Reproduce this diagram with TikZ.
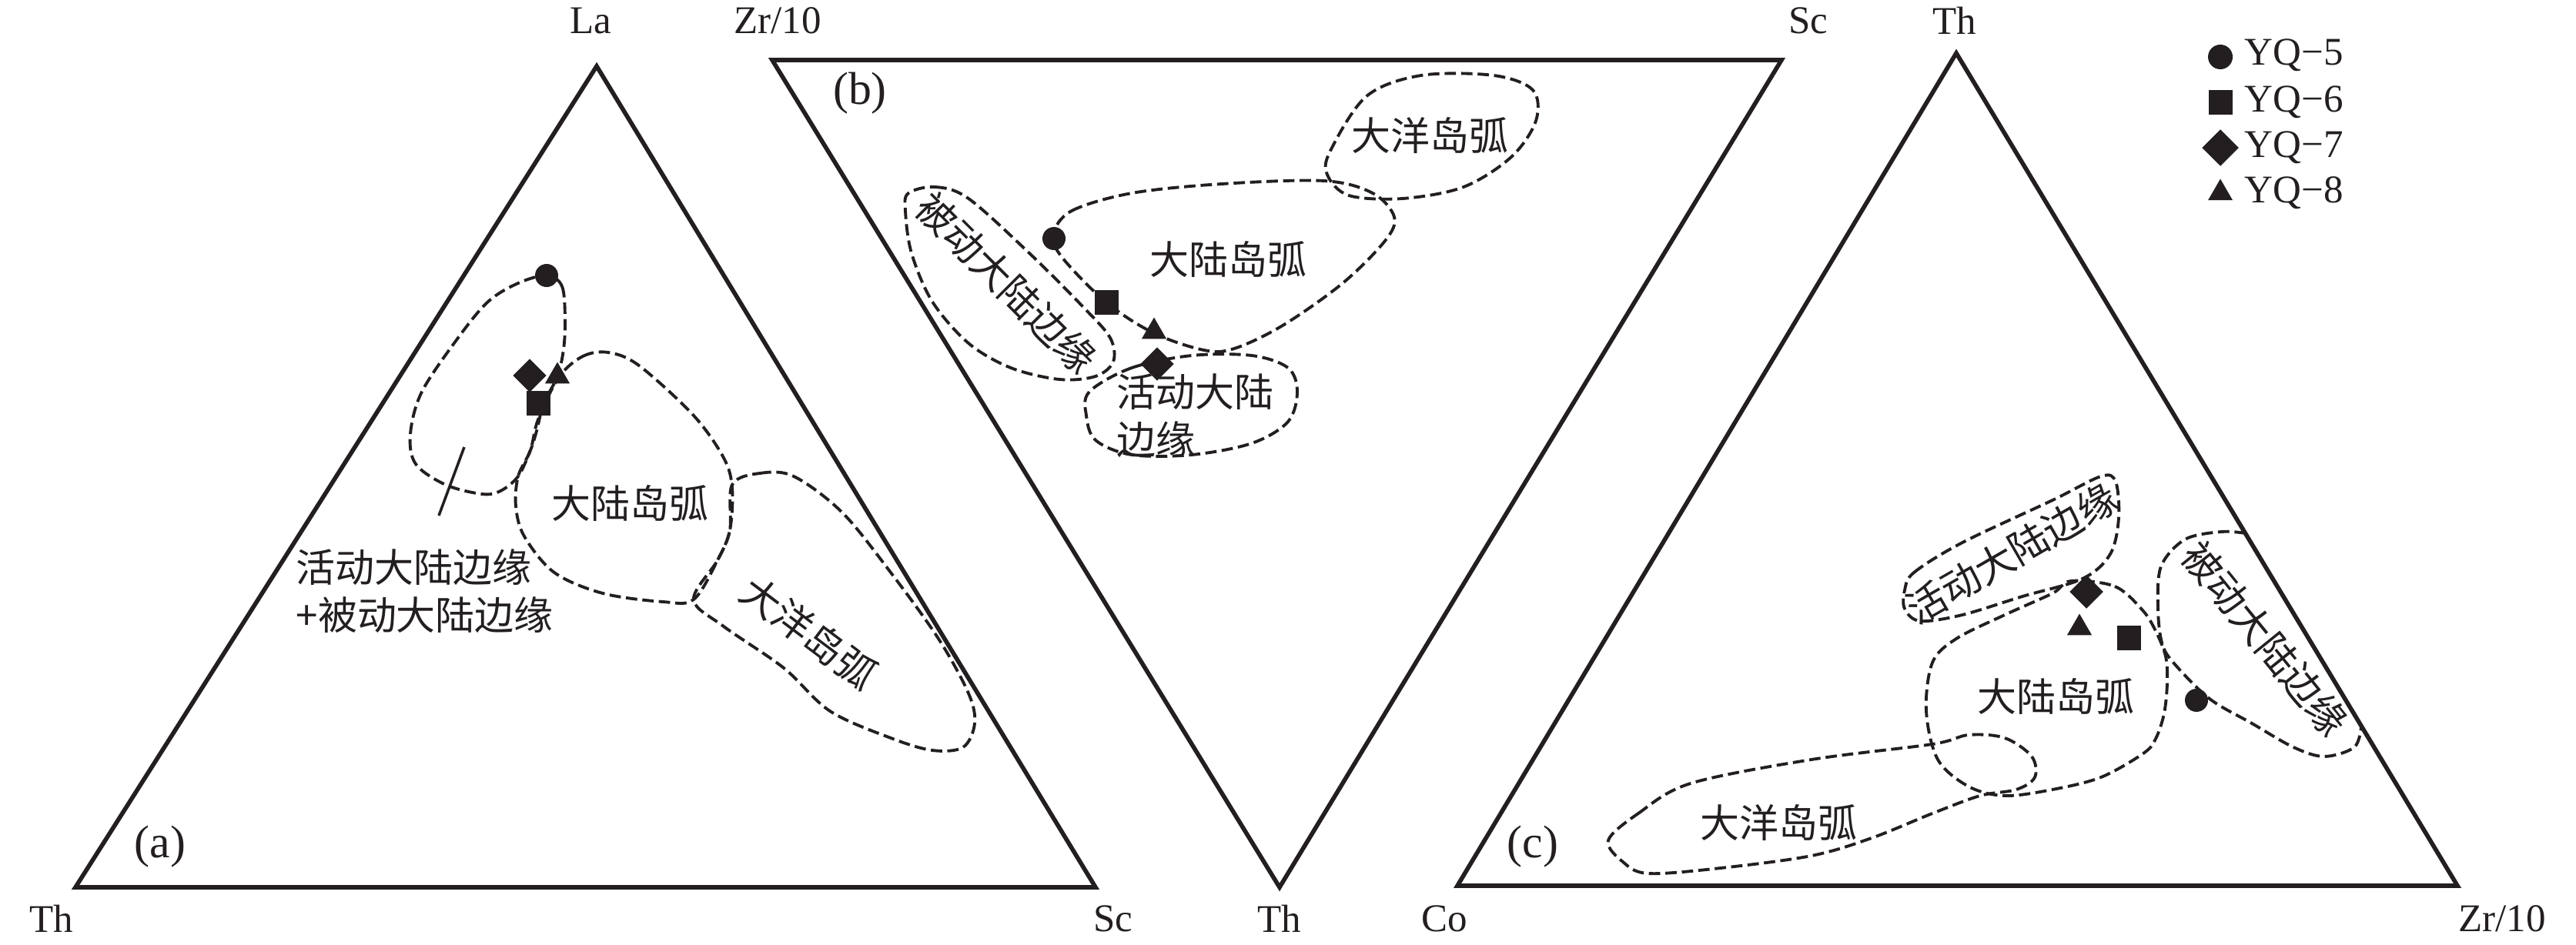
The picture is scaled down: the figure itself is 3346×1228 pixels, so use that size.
\documentclass[tikz,border=0pt]{standalone}
\usepackage{fontspec}
\setmainfont{Liberation Serif}
\newfontfamily\cjk{Noto Sans CJK SC}
\usetikzlibrary{shapes.geometric}
\definecolor{ink}{RGB}{35,31,32}
\tikzset{
  sdot/.style = {circle, fill=ink, inner sep=0pt, outer sep=0pt, minimum size=#1},
  sdot/.default = 0.30cm,
  ssq/.style  = {rectangle, fill=ink, inner sep=0pt, minimum size=0.31cm},
  sdia/.style = {diamond, fill=ink, inner sep=0pt, minimum size=0.44cm},
  stri/.style = {regular polygon, regular polygon sides=3, fill=ink, inner sep=0pt, minimum size=0.37cm},
  tri/.style  = {draw=ink, line width=1.6pt, line join=miter},
  field/.style = {draw=ink, line width=1.1pt, dash pattern=on 4.2pt off 1.9pt},
  zh/.style  = {font=\cjk\fontsize{14.5}{17.5}\selectfont, text=ink, inner sep=0pt},
  lbl/.style = {font=\fontsize{14.5}{17}\selectfont, text=ink, inner sep=0pt},
  pan/.style = {font=\fontsize{17}{20}\selectfont, text=ink, inner sep=0pt}
}

\begin{document}
\begin{tikzpicture}[x=0.01cm, y=-0.01cm]
	\useasboundingbox (0,0) rectangle (3346,1228);

	% Corners
	\coordinate (aTh) at (98,1153);
	\coordinate (aLa) at (775,86);
	\coordinate (aSc) at (1423,1153);
	\coordinate (bZr) at (1003,78);
	\coordinate (bSc) at (2314,78);
	\coordinate (bTh) at (1662,1153);
	\coordinate (cCo) at (1893,1151);
	\coordinate (cTh) at (2541,69);
	\coordinate (cZr) at (3192,1151);

	% Triangles
	\draw[tri] (aTh) -- (aLa) -- (aSc) -- cycle; % (a)
	\draw[tri] (bZr) -- (bSc) -- (bTh) -- cycle; % (b)
	\draw[tri] (cCo) -- (cTh) -- (cZr) -- cycle; % (c)

	% Corner names
	\node[lbl] (laLa)  at (767,27)   {La};
	\node[lbl] (laThA) at (67,1194)  {Th};
	\node[lbl] (laScA) at (1446,1194) {Sc};
	\node[lbl] (laZrB) at (1010,27)  {Zr/10};
	\node[lbl] (laScB) at (2349,27)  {Sc};
	\node[lbl] (laThB) at (1662,1194) {Th};
	\node[lbl] (laThC) at (2539,27)  {Th};
	\node[lbl] (laCo)  at (1876,1194) {Co};
	\node[lbl] (laZrC) at (3250,1194) {Zr/10};

	% Panel names
	\node[pan] (panA) at (208,1100) {(a)};
	\node[pan] (panB) at (1117,121) {(b)};
	\node[pan] (panC) at (1991,1100) {(c)};

	% Fields (a)
	\draw[field] plot[smooth cycle, tension=0.55] coordinates {(710,358) (730,372) (734,415) (732,454) (724,489) (706,525) (697,560) (689,585) (673,619) (650,638) (626,642) (579,630) (540,603) (533,564) (548,509) (595,439) (634,392) (673,368)};
	\draw[field] plot[smooth cycle, tension=0.55] coordinates {(726,490) (757,463) (790,458) (830,475) (901,540) (940,595) (951,634) (948,689) (932,728) (901,779) (861,782) (783,771) (720,744) (681,697) (670,658) (673,619) (689,585) (699,545)};
	\draw[field] plot[smooth cycle, tension=0.55] coordinates {(951,630) (987,615) (1031,619) (1094,666) (1157,744) (1219,830) (1258,901) (1266,940) (1251,971) (1211,975) (1157,959) (1078,924) (1018,868) (940,814) (901,779) (932,728) (948,689)};
	\coordinate (tickA) at (603,581);
	\coordinate (tickB) at (570,670);
	\draw[ink, line width=1pt] (tickA) -- (tickB);

	\node[zh] (aCA) at (818,654) {大陆岛弧};
	\node[zh, rotate=-37] (aOA) at (1051,822) {大洋岛弧};
	\node[zh, anchor=west, align=left] (aCM) at (384,768) {活动大陆边缘\\+被动大陆边缘};

	% Fields (b)
	\draw[field] plot[smooth cycle, tension=0.55] coordinates {(1180,251) (1215,243) (1258,258) (1337,329) (1407,399) (1442,439) (1446,470) (1423,489) (1376,493) (1313,478) (1258,446) (1211,392) (1184,329) (1176,274)};
	\draw[field] plot[smooth cycle, tension=0.55] coordinates {(1368,305) (1392,274) (1470,251) (1587,239) (1720,235) (1783,251) (1811,282) (1799,313) (1744,368) (1666,423) (1603,453) (1564,455) (1499,433) (1437,393) (1380,335)};
	\draw[field] plot[smooth cycle, tension=0.55] coordinates {(1728,196) (1775,125) (1846,98) (1940,98) (1991,117) (1995,157) (1963,204) (1901,243) (1822,258) (1752,254) (1724,227)};
	\draw[field] plot[smooth cycle, tension=0.55] coordinates {(1415,509) (1470,478) (1548,462) (1626,462) (1673,478) (1685,509) (1673,548) (1626,576) (1548,591) (1470,591) (1423,572) (1411,540)};

	\node[zh, rotate=-45] (bPM) at (1307,368) {被动大陆边缘};
	\node[zh] (bCA) at (1595,337) {大陆岛弧};
	\node[zh] (bOA) at (1857,176) {大洋岛弧};
	\node[zh, anchor=west, align=left] (bAM) at (1450,540) {活动大陆\\边缘};

	% Fields (c)
	\draw[field] plot[smooth cycle, tension=0.55] coordinates {(2474,767) (2486,744) (2549,705) (2666,650) (2729,619) (2748,626) (2752,673) (2741,720) (2705,752) (2627,775) (2549,799) (2494,807) (2474,791)};
	\draw[field] plot[smooth cycle, tension=0.55] coordinates {(2690,755) (2747,762) (2783,793) (2800,820) (2813,853) (2815,887) (2811,927) (2800,960) (2784,979) (2729,1010) (2666,1026) (2604,1034) (2557,1022) (2517,987) (2502,924) (2510,861) (2541,830) (2604,799) (2666,771)};
	\draw[field] plot[smooth cycle, tension=0.55] coordinates {(2089,1092) (2128,1057) (2196,1018) (2353,987) (2510,967) (2557,955) (2604,959) (2639,983) (2643,1010) (2619,1026) (2572,1034) (2510,1057) (2431,1089) (2353,1112) (2235,1128) (2141,1135) (2108,1120)};
	\draw[field] plot[smooth, tension=0.55] coordinates {(2917,693) (2885,691) (2838,701) (2807,736) (2803,790) (2808,835) (2823,861) (2870,908) (2925,940) (2979,971) (3019,983) (3058,971) (3067,944)};

	\node[zh, rotate=30] (cAM) at (2613,719) {活动大陆边缘};
	\node[zh] (cCA) at (2670,905) {大陆岛弧};
	\node[zh] (cOA) at (2310,1069) {大洋岛弧};
	\node[zh, rotate=-51] (cPM) at (2942,830) {被动大陆边缘};

	% Samples (a)
	\node[sdot] (a5) at (710,358) {};
	\node[ssq]  (a6) at (699,524) {};
	\node[sdia] (a7) at (688,488) {};
	\node[stri] (a8) at (724,489) {};

	% Samples (b)
	\node[sdot] (b5) at (1369,310) {};
	\node[ssq]  (b6) at (1437,393) {};
	\node[sdia] (b7) at (1503,473) {};
	\node[stri] (b8) at (1499,431) {};

	% Samples (c)
	\node[sdot] (c5) at (2853,910) {};
	\node[ssq]  (c6) at (2765,829) {};
	\node[sdia] (c7) at (2710,769) {};
	\node[stri] (c8) at (2701,816) {};

	% Legend
	\node[sdot=0.32cm] (leg5) at (2884,74) {};
	\node[ssq]  (leg6) at (2884,133) {};
	\node[sdia, minimum size=0.48cm] (leg7) at (2884,192) {};
	\node[stri] (leg8) at (2884,251) {};
	\node[lbl, anchor=west] (txt5) at (2915,72)  {YQ−5};
	\node[lbl, anchor=west] (txt6) at (2915,133) {YQ−6};
	\node[lbl, anchor=west] (txt7) at (2915,192) {YQ−7};
	\node[lbl, anchor=west] (txt8) at (2915,251) {YQ−8};

\end{tikzpicture}
\end{document}
